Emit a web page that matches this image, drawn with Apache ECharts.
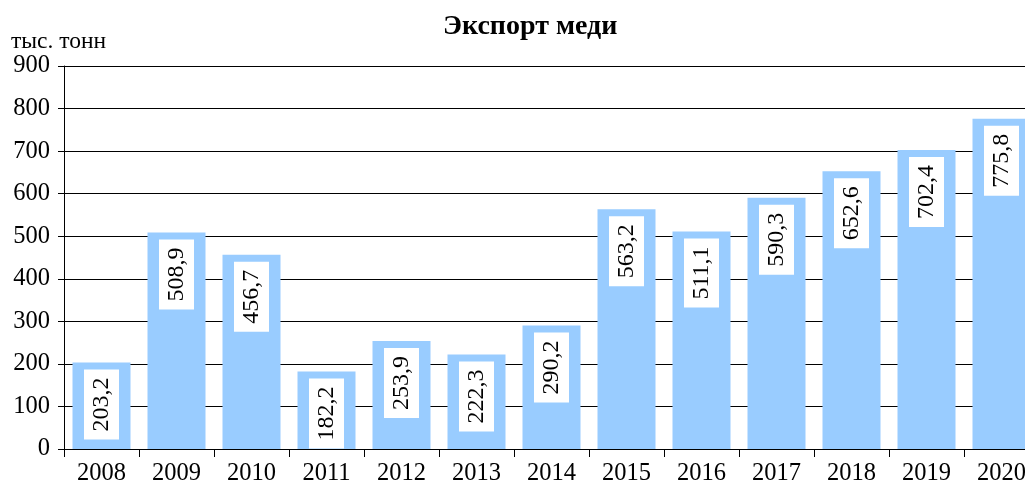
<!DOCTYPE html>
<html>
<head>
<meta charset="utf-8">
<script src="https://cdn.jsdelivr.net/npm/echarts@6/dist/echarts.min.js"></script>
<style>
  html, body { margin: 0; padding: 0; background: #fff; }
  #chart { width: 1025px; height: 489px; }
</style>
</head>
<body>
<div id="chart"></div>
<script>
// годы и экспорт меди, тыс. тонн
const years = ['2008', '2009', '2010', '2011', '2012', '2013', '2014',
  '2015', '2016', '2017', '2018', '2019', '2020']
const exportValues = [203.2, 508.9, 456.7, 182.2, 253.9, 222.3, 290.2,
  563.2, 511.1, 590.3, 652.6, 702.4, 775.8]
const yTicks = [0, 100, 200, 300, 400, 500, 600, 700, 800, 900]

const font = '"Liberation Serif", "Times New Roman", serif'

const chart = echarts.init(document.getElementById('chart'))

chart.setOption({
  animation: false,
  title: [{
    text: 'Экспорт меди',
    left: 438,
    top: 8,
    textStyle: { fontFamily: font, fontSize: 28, fontWeight: 'bold', color: '#000' }
  }, {
    text: 'тыс. тонн',
    left: 6,
    top: 25,
    textStyle: { fontFamily: font, fontSize: 23.5, fontWeight: 'normal', color: '#000' }
  }],
  grid: {
    left: 64,
    top: 66,
    right: -14,
    bottom: 40,
    outerBoundsMode: 'none'
  },
  xAxis: {
    type: 'category',
    data: years,
    axisLine: { lineStyle: { color: '#000', width: 1 } },
    axisTick: { show: true, length: 8, lineStyle: { color: '#000' } },
    axisLabel: { fontFamily: font, fontSize: 24.5, color: '#000', margin: 12 }
  },
  yAxis: {
    type: 'value',
    min: yTicks[0],
    max: yTicks[yTicks.length - 1],
    interval: 100,
    axisLine: { show: true, lineStyle: { color: '#000', width: 1 } },
    axisTick: { show: true, length: 6, lineStyle: { color: '#000' } },
    axisLabel: { fontFamily: font, fontSize: 24.5, color: '#000', margin: 14 },
    splitLine: { lineStyle: { color: '#000', width: 1 } }
  },
  series: [{
    type: 'bar',
    data: exportValues,
    barWidth: 58,
    itemStyle: { color: '#99ccff' },
    label: {
      show: true,
      position: 'insideTop',
      distance: 7,
      rotate: 90,
      align: 'right',
      verticalAlign: 'middle',
      fontFamily: font,
      fontSize: 24,
      color: '#000',
      backgroundColor: '#fff',
      padding: [6, 8, 5, 8],
      formatter: p => String(p.value).replace('.', ',')
    }
  }]
})
</script>
</body>
</html>
